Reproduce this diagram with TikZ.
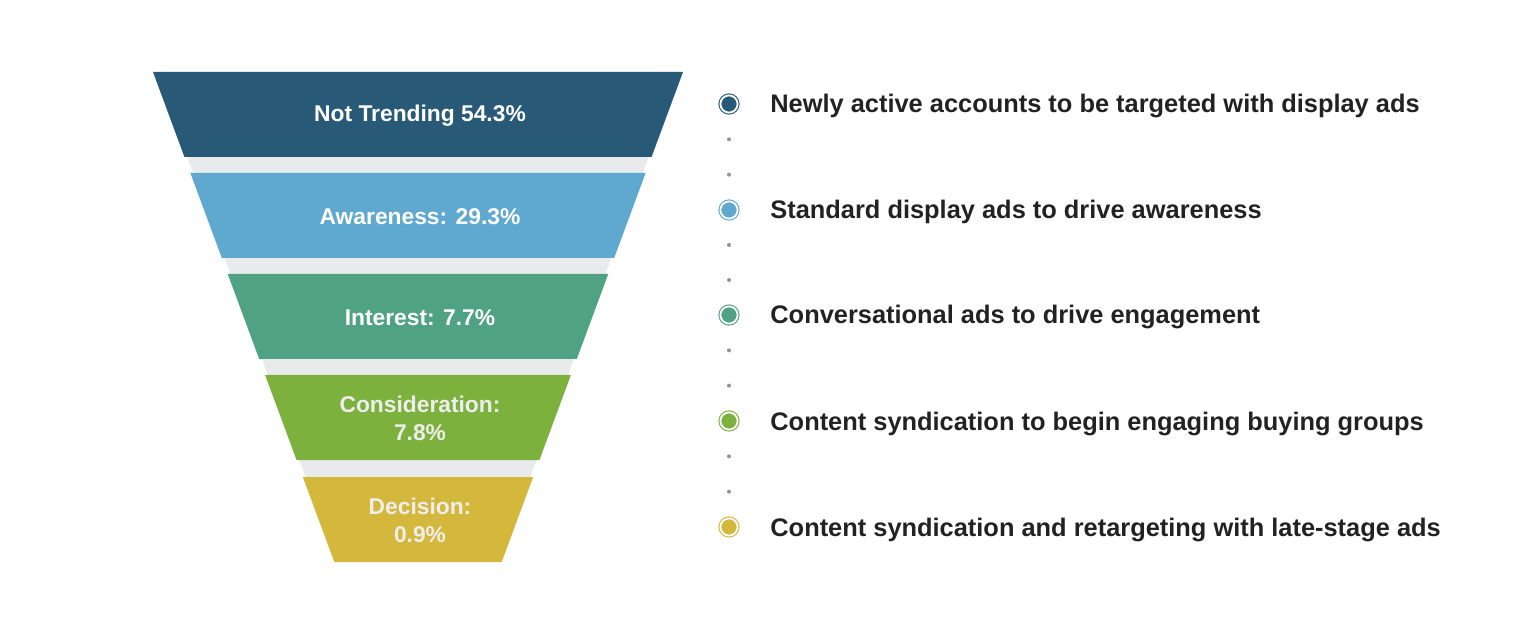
\documentclass[tikz,border=0pt]{standalone}
\usepackage{fontspec}
\setmainfont{Liberation Sans}
\usetikzlibrary{positioning}

\definecolor{notTrendCol}{HTML}{285A78}
\definecolor{awareCol}{HTML}{5FA9D0}
\definecolor{interestCol}{HTML}{4FA283}
\definecolor{considerCol}{HTML}{7DB13E}
\definecolor{decisionCol}{HTML}{D3B83B}
\definecolor{funnelGray}{HTML}{E9EAEB}
\definecolor{legendInk}{HTML}{222222}
\definecolor{lightInk}{HTML}{EEEEEE}

\begin{document}
\begin{tikzpicture}
[x=0.5pt, y=-0.5pt,
  stageLabel/.style={align=center, font=\bfseries\fontsize{11.4}{14.2}\selectfont, inner sep=0pt},
  legendText/.style={anchor=base west, text=legendInk, font=\bfseries\fontsize{12.7}{15}\selectfont, inner sep=0pt},
  marker/.style={circle, inner sep=0pt, minimum size=8.6pt, fill=#1, draw=#1,
    double=white, double distance=0.9pt, line width=0.55pt},
  sepDot/.style={circle, fill=gray!85, inner sep=0pt, minimum size=2pt}]
\useasboundingbox (0,0) rectangle (1516,636);
%% gray funnel behind the stages
\fill[funnelGray] (156,72) -- (680,72) -- (499,562) -- (337,562) -- cycle;
%% funnel stages
\foreach \stagename/\stagecol/\ink/\ytop/\txt in {
  notTrend/notTrendCol/white/72/{Not Trending 54.3\%},
  aware/awareCol/white/173/{Awareness: 29.3\%},
  interest/interestCol/white/274/{Interest: 7.7\%},
  consider/considerCol/lightInk/375/{Consideration:\\7.8\%},
  decision/decisionCol/lightInk/477/{Decision:\\0.9\%}}
{
  \pgfmathsetmacro{\ybot}{\ytop+85}
  \pgfmathsetmacro{\xtop}{153+0.37*(\ytop-72)}
  \pgfmathsetmacro{\xbot}{153+0.37*(\ybot-72)}
  \fill[\stagecol] (\xtop,\ytop) -- (836-\xtop,\ytop) -- (836-\xbot,\ybot) -- (\xbot,\ybot) -- cycle;
  \node[stageLabel, text=\ink] (\stagename) at (420,\ytop+43.5) {\txt};
}
%% legend markers and texts
\foreach \mname/\mcol/\y/\txt in {
  mNot/notTrendCol/104/{Newly active accounts to be targeted with display ads},
  mAware/awareCol/210/{Standard display ads to drive awareness},
  mInterest/interestCol/315/{Conversational ads to drive engagement},
  mConsider/considerCol/421/{Content syndication to begin engaging buying groups},
  mDecision/decisionCol/527/{Content syndication and retargeting with late-stage ads}}
{
  \node[marker=\mcol] (\mname) at (729,\y) {};
  \node[legendText] (\mname Text) at (770,\y+9) {\txt};
}
%% dotted links between markers
\foreach \startnode/\endnode in {
  mNot/mAware, mAware/mInterest, mInterest/mConsider, mConsider/mDecision}
{
  \path (\startnode.center) -- node[pos=1/3, sepDot] {} node[pos=2/3, sepDot] {} (\endnode.center);
}
\end{tikzpicture}
\end{document}
